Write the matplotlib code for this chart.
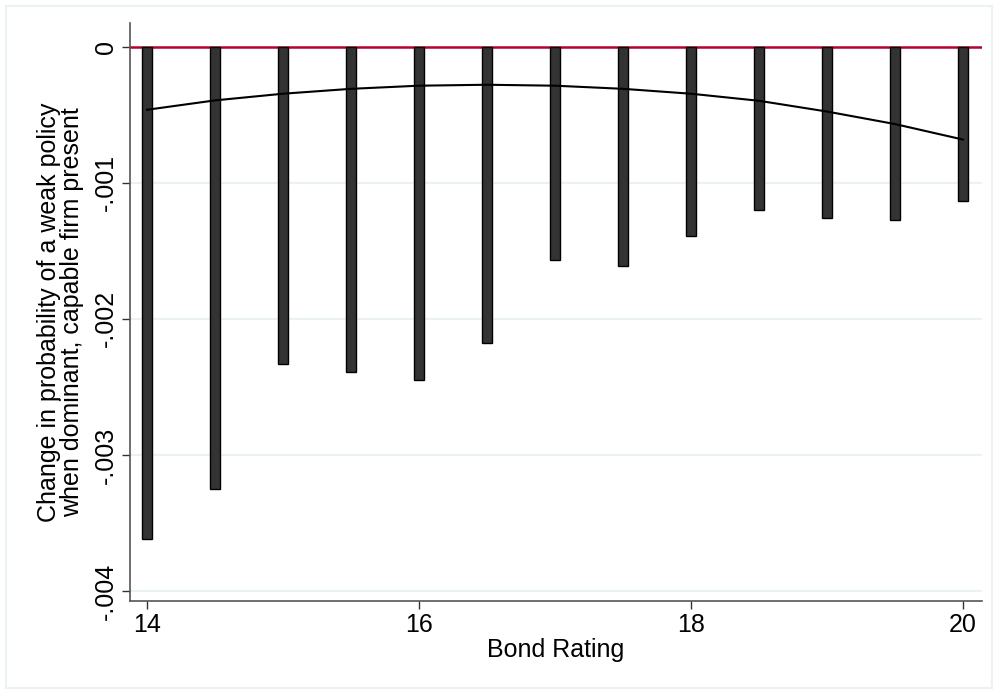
import numpy as np
import matplotlib.pyplot as plt
from matplotlib.patches import Rectangle

plt.rcParams['font.family'] = ['Liberation Sans', 'DejaVu Sans']

rating = [14, 14.5, 15, 15.5, 16, 16.5, 17, 17.5, 18, 18.5, 19, 19.5, 20]
change = [-0.00362, -0.00325, -0.00233, -0.00239, -0.00245, -0.00218, -0.00157,
          -0.00161, -0.00139, -0.00120, -0.00126, -0.00127, -0.00113]
fit = [-0.000462, -0.000393, -0.000344, -0.000308, -0.000285, -0.000278, -0.000285,
       -0.000308, -0.000344, -0.000396, -0.000475, -0.000567, -0.000681]

yticks = [0, -0.001, -0.002, -0.003, -0.004]
ylabels = ['0', '-.001', '-.002', '-.003', '-.004']
xticks = [14, 16, 18, 20]

fig = plt.figure(figsize=(9.98, 6.94), dpi=100)
fig.patches.append(Rectangle((6/998, 6/694), 986/998, 682/694, transform=fig.transFigure,
                             fill=False, edgecolor='#eaf2f3', linewidth=1.5))

ax = fig.add_axes([130/998, 93/694, 852/998, 578/694])
ax.set_xlim(13.875, 20.14)
ax.set_ylim(-0.004074, 0.000176)

for y in yticks[1:]:
    ax.axhline(y, color='#eaf2f3', linewidth=1.5, zorder=0)
ax.axhline(0, color='#b5002e', linewidth=1.8, zorder=1)

ax.bar(rating, change, width=0.075, color='#333333', edgecolor='black', linewidth=1, zorder=2)
ax.plot(rating, fit, color='black', linewidth=1.5, zorder=3)

ax.set_yticks(yticks)
ax.set_yticklabels(ylabels, rotation=90, va='center', fontsize=18)
ax.set_xticks(xticks)
ax.set_xticklabels([str(x) for x in xticks], fontsize=18)
ax.tick_params(length=6, width=1, color='#333333', pad=3)

for s in ['top', 'right']:
    ax.spines[s].set_visible(False)
for s in ['left', 'bottom']:
    ax.spines[s].set_color('#555555')
    ax.spines[s].set_linewidth(1.2)

ax.set_xlabel('Bond Rating', fontsize=18, labelpad=0)
ax.set_ylabel('Change in probability of a weak policy\nwhen dominant, capable firm present',
              fontsize=18, labelpad=7, linespacing=0.92)

plt.savefig('out.png', dpi=100)
